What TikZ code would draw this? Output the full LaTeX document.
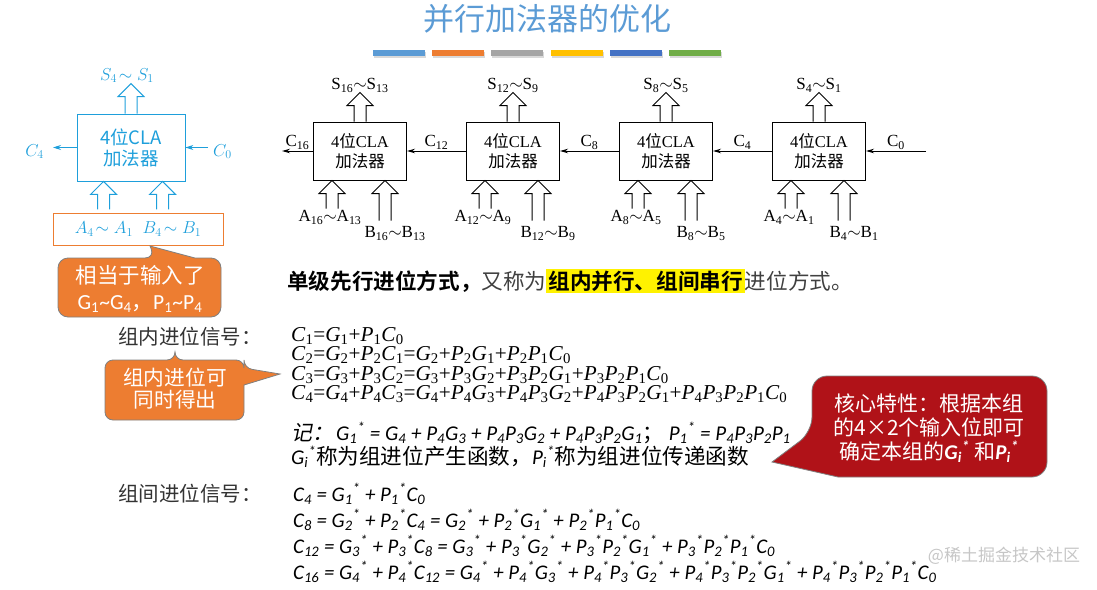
\documentclass[tikz,border=0pt]{standalone}
\usepackage{fontspec}
\setmainfont{Liberation Serif}
\newfontfamily\cjk[BoldFont={Noto Sans CJK SC Bold}]{Noto Sans CJK SC}
\newfontfamily\cjkit[FakeSlant=0.2]{Noto Sans CJK SC}
\newfontfamily\calfont{Carlito}
\usetikzlibrary{positioning,calc,arrows.meta}

\definecolor{titleblue}{HTML}{5B9BD5}
\definecolor{clablue}{HTML}{1E9FDB}
\definecolor{offorange}{HTML}{ED7D31}
\definecolor{notered}{HTML}{B01218}
\definecolor{barA}{HTML}{5B9BD5}
\definecolor{barB}{HTML}{ED7D31}
\definecolor{barC}{HTML}{A5A5A5}
\definecolor{barD}{HTML}{FFC000}
\definecolor{barE}{HTML}{4472C4}
\definecolor{barF}{HTML}{70AD47}

% variables with subscripts (and the star of the group signals)
\newcommand\tv[2]{\textit{#1}\textsubscript{#2}}
\newcommand\gv[2]{#1\textsubscript{#2}}
\newcommand\gs[2]{#1\textsubscript{#2}\textsuperscript{*}}

\tikzset{
  pics/hollow/.style={code={
    \draw[line width=1pt,pic actions] (-6,0) -- (-6,-#1+13) -- (-13,-#1+13)
      -- (0,-#1) -- (13,-#1+13) -- (6,-#1+13) -- (6,0);
  }},
}

\begin{document}
\begin{tikzpicture}[x=1pt,y=-1pt,
    cla/.style={draw, line width=1pt, minimum width=93pt, minimum height=58pt,
      inner sep=0pt, align=center, font=\fontsize{16.5}{20}\selectfont},
    carry/.style={line width=1pt, -{Stealth[length=8pt,width=4.5pt]}},
    lbl/.style={font=\fontsize{17}{17}\selectfont, inner sep=1pt},
    bluearr/.style={draw=clablue, line width=0.8pt, -{Stealth[length=8pt,width=5pt]}},
    bluelbl/.style={text=clablue, font=\fontsize{18}{18}\selectfont, inner sep=0pt},
    bubble/.style={draw=gray, line width=0.8pt},
    say/.style={text=white, align=center, inner sep=0pt},
    sidelbl/.style={anchor=west, inner sep=0pt, text=black!80, font=\cjk\fontsize{20.5}{20.5}\selectfont},
  ]
  \useasboundingbox (0,0) rectangle (1097,589);

  % title and colour bars
  \node[text=titleblue, font=\cjk\fontsize{31}{31}\selectfont] (title) at (547,19) {并行加法器的优化};
  \foreach \c [count=\i from 0] in {barA,barB,barC,barD,barE,barF} {
    \fill[black!15] ({374+\i*59.2},51.5) rectangle ++(52,6);
    \fill[\c] ({373+\i*59.2},50) rectangle ++(52,6);
  }

  % one 4-bit CLA adder (blue)
  \node[draw=clablue, line width=0.8pt, minimum width=108pt, minimum height=67pt, inner sep=0pt,
    text=clablue, font=\cjk\fontsize{18.5}{21}\selectfont, align=center] (lb) at (131,147.5) {4位CLA\\加法器};
  \node[draw=offorange, line width=0.8pt, minimum width=170pt, minimum height=32pt, inner sep=0pt,
    text=clablue, font=\fontsize{17.5}{17.5}\selectfont] (lab) at (138,229) {$A_4\!\sim A_1\;\; B_4\!\sim B_1$};
  \pic[draw=clablue,line width=0.8pt] at (lb.north) {hollow=30};
  \pic[draw=clablue,line width=0.8pt] at ($(lb.south west)+(27,28)$) {hollow=28};
  \pic[draw=clablue,line width=0.8pt] at ($(lb.south west)+(86,28)$) {hollow=28};
  \node[bluelbl] (ls) at ($(lb.north)+(-4,-38)$) {$S_4\!\sim S_1$};
  \coordinate (lc4) at (53,147.5);
  \coordinate (lc0) at (208,147.5);
  \draw[bluearr] (lb.west) -- (lc4);
  \draw[bluearr] (lc0) -- (lb.east);
  \node[bluelbl, anchor=east] (lc4t) at ($(lc4)+(-9,4)$) {$C_4$};
  \node[bluelbl, anchor=west] (lc0t) at ($(lc0)+(5,4)$) {$C_0$};

  % callout under the inputs
  \draw[bubble, fill=offorange] (58,290) [rounded corners=10pt] |- (155,258) [sharp corners]
    -- (150,246) -- (195,258) [rounded corners=10pt] -| (221,317) -| (58,290) -- cycle;
  \node[say, font=\cjk\fontsize{21.5}{26}\selectfont] (gp) at (140,289)
    {相当于输入了\\{\calfont G\textsubscript{1}\textasciitilde G\textsubscript{4}}，{\calfont P\textsubscript{1}\textasciitilde P\textsubscript{4}}};

  % four CLA adders in a chain
  \node[cla] (g4) at (819,151) {4{\cjk 位}CLA\\{\cjk 加法器}};
  \node[cla, left=59pt of g4] (g3) {4{\cjk 位}CLA\\{\cjk 加法器}};
  \node[cla, left=59pt of g3] (g2) {4{\cjk 位}CLA\\{\cjk 加法器}};
  \node[cla, left=59pt of g2] (g1) {4{\cjk 位}CLA\\{\cjk 加法器}};
  \foreach \g/\hi/\lo in {g1/16/13, g2/12/9, g3/8/5, g4/4/1} {
    \pic[draw] at (\g.north) {hollow=29};
    \pic[draw] at ($(\g.south west)+(19,28)$) {hollow=28};
    \pic[draw] at ($(\g.south west)+(72,40)$) {hollow=40};
    \node[lbl] (\g-s) at ($(\g.north)+(0,-36)$) {S\textsubscript{\hi}\ensuremath{\sim}S\textsubscript{\lo}};
    \node[lbl] (\g-a) at ($(\g.south west)+(17,37)$) {A\textsubscript{\hi}\ensuremath{\sim}A\textsubscript{\lo}};
    \node[lbl] (\g-b) at ($(\g.south west)+(82,53)$) {B\textsubscript{\hi}\ensuremath{\sim}B\textsubscript{\lo}};
  }
  \coordinate (c16) at (282,151);
  \coordinate (c0) at (926,151);
  \draw[carry] (g1.west) -- node[lbl,above] (t16) {C\textsubscript{16}} (c16);
  \draw[carry] (g2.west) -- node[lbl,above] (t12) {C\textsubscript{12}} (g1.east);
  \draw[carry] (g3.west) -- node[lbl,above] (t8) {C\textsubscript{8}} (g2.east);
  \draw[carry] (g4.west) -- node[lbl,above] (t4) {C\textsubscript{4}} (g3.east);
  \draw[carry] (c0) -- node[lbl,above] (t0) {C\textsubscript{0}} (g4.east);

  % mode sentence
  \node[anchor=west, inner sep=0pt, font=\cjk\fontsize{21.6}{24}\selectfont] (mode) at (287,281)
    {{\bfseries 单级先行进位方式，}{\color{darkgray}又称为}{\setlength{\fboxsep}{2pt}\colorbox{yellow}{\bfseries 组内并行、组间串行}}{\color{darkgray}进位方式。}};

  % carries inside a group
  \node[sidelbl] (inlbl) at (118,337) {组内进位信号：};
  \node[anchor=west, inner sep=0pt, align=left, font=\fontsize{21.2}{19.5}\selectfont] (inner) at (291,365)
    {\tv C1=\tv G1+\tv P1\tv C0\\
     \tv C2=\tv G2+\tv P2\tv C1=\tv G2+\tv P2\tv G1+\tv P2\tv P1\tv C0\\
     \tv C3=\tv G3+\tv P3\tv C2=\tv G3+\tv P3\tv G2+\tv P3\tv P2\tv G1+\tv P3\tv P2\tv P1\tv C0\\
     \tv C4=\tv G4+\tv P4\tv C3=\tv G4+\tv P4\tv G3+\tv P4\tv P3\tv G2+\tv P4\tv P3\tv P2\tv G1+\tv P4\tv P3\tv P2\tv P1\tv C0};

  \draw[bubble, fill=offorange] (175,360) [rounded corners=8pt] -| (244,368) [sharp corners]
    -- (280,374) -- (244,385) [rounded corners=8pt] |- (105,420) |- (175,360) -- cycle;
  \node[say, font=\cjk\fontsize{20.7}{22}\selectfont] (same) at (175,389) {组内进位可\\同时得出};

  % group generate / propagate
  \node[anchor=west, inner sep=0pt, align=left, font=\fontsize{21}{24}\selectfont] (note) at (291,445)
    {{\cjkit 记：}\hspace{3pt}{\calfont\itshape \gs G1 = \gv G4 + \gv P4\gv G3 + \gv P4\gv P3\gv G2 + \gv P4\gv P3\gv P2\gv G1}{\cjk ；}\
     {\calfont\itshape \gs P1 = \gv P4\gv P3\gv P2\gv P1}\\
     {\calfont\itshape \gs Gi}{\cjk\fontsize{21.6}{24}\selectfont 称为组进位产生函数，}{\calfont\itshape \gs Pi}{\cjk\fontsize{21.6}{24}\selectfont 称为组进位传递函数}};

  \draw[bubble, fill=notered] (930,376) [rounded corners=15pt] -| (812,432) [sharp corners]
    -- (772,462) -- (838,477) [rounded corners=15pt] -| (1047,376) -- cycle;
  \node[say, font=\cjk\fontsize{21}{24}\selectfont] (core) at (929,428)
    {核心特性：根据本组\\的4×2个输入位即可\\确定本组的{\calfont\bfseries\itshape \gs Gi} 和{\calfont\bfseries\itshape \gs Pi}};

  % carries between groups
  \node[sidelbl] (outlbl) at (118,494) {组间进位信号：};
  \node[anchor=west, inner sep=0pt, align=left, font=\calfont\itshape\fontsize{20.8}{26}\selectfont] (outer) at (293,533)
    {\gv C4 = \gs G1 + \gs P1\gv C0\\
     \gv C8 = \gs G2 + \gs P2\gv C4 = \gs G2 + \gs P2\gs G1 + \gs P2\gs P1\gv C0\\
     \gv C{12} = \gs G3 + \gs P3\gv C8 = \gs G3 + \gs P3\gs G2 + \gs P3\gs P2\gs G1 + \gs P3\gs P2\gs P1\gv C0\\
     \gv C{16} = \gs G4 + \gs P4\gv C{12} = \gs G4 + \gs P4\gs G3 + \gs P4\gs P3\gs G2 + \gs P4\gs P3\gs P2\gs G1 + \gs P4\gs P3\gs P2\gs P1\gv C0};

  \node[text=gray!45, font=\cjk\fontsize{17}{17}\selectfont] (wm) at (1004,556) {@稀土掘金技术社区};
\end{tikzpicture}
\end{document}
